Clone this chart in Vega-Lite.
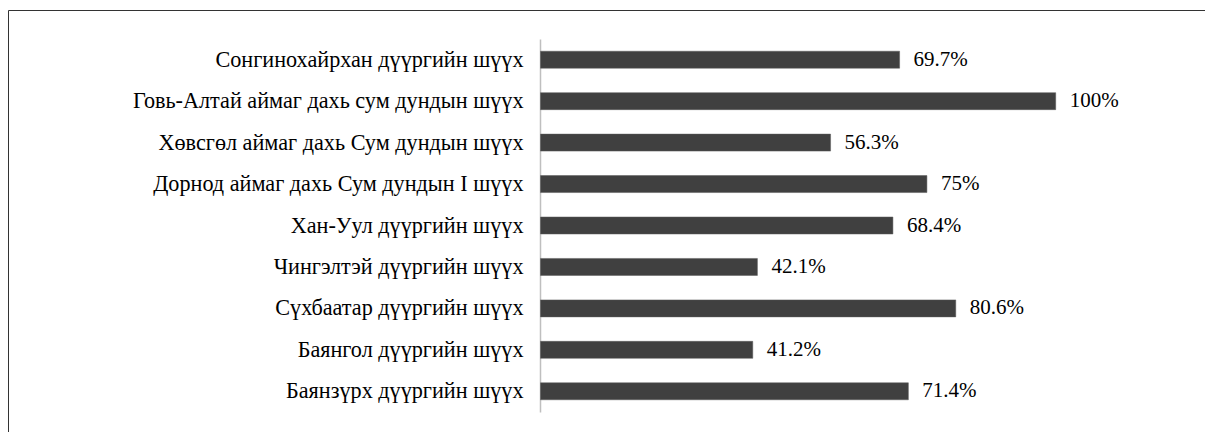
{
  "$schema": "https://vega.github.io/schema/vega-lite/v6.json",
  "width": 1205,
  "height": 432,
  "autosize": {"type": "none"},
  "padding": {"left": 8, "top": 10, "right": 0, "bottom": 0},
  "background": "white",
  "config": {
    "view": {"stroke": "#333333", "strokeWidth": 1},
    "font": "Liberation Serif"
  },
  "data": {
    "values": [
      {"name": "Сонгинохайрхан дүүргийн шүүх", "value": 69.7},
      {"name": "Говь-Алтай аймаг дахь сум дундын шүүх", "value": 100},
      {"name": "Хөвсгөл аймаг дахь Сум дундын шүүх", "value": 56.3},
      {"name": "Дорнод аймаг дахь Сум дундын I шүүх", "value": 75},
      {"name": "Хан-Уул дүүргийн шүүх", "value": 68.4},
      {"name": "Чингэлтэй дүүргийн шүүх", "value": 42.1},
      {"name": "Сүхбаатар дүүргийн шүүх", "value": 80.6},
      {"name": "Баянгол дүүргийн шүүх", "value": 41.2},
      {"name": "Баянзүрх дүүргийн шүүх", "value": 71.4}
    ]
  },
  "transform": [{"calculate": "datum.value + '%'", "as": "label"}],
  "encoding": {
    "y": {
      "field": "name",
      "type": "nominal",
      "sort": null,
      "scale": {"range": [29, 402], "paddingInner": 0.59, "paddingOuter": 0.295},
      "axis": {
        "title": null,
        "orient": "left",
        "offset": -532,
        "ticks": false,
        "domainColor": "#bfbfbf",
        "domainWidth": 1.5,
        "labelPadding": 17,
        "labelFont": "Liberation Serif",
        "labelFontSize": 22.2,
        "labelColor": "#000000",
        "labelLimit": 0
      }
    },
    "x": {
      "field": "value",
      "type": "quantitative",
      "scale": {"domain": [-103.36, 130.53], "nice": false, "zero": false},
      "axis": null
    }
  },
  "layer": [
    {
      "mark": {"type": "bar", "color": "#404040", "stroke": "#5a5a5a", "strokeWidth": 0.5},
      "encoding": {"x2": {"datum": 0}}
    },
    {
      "mark": {"type": "text", "align": "left", "baseline": "middle", "dx": 14, "font": "Liberation Serif", "fontSize": 21, "color": "#000000"},
      "encoding": {"text": {"field": "label"}}
    }
  ]
}
